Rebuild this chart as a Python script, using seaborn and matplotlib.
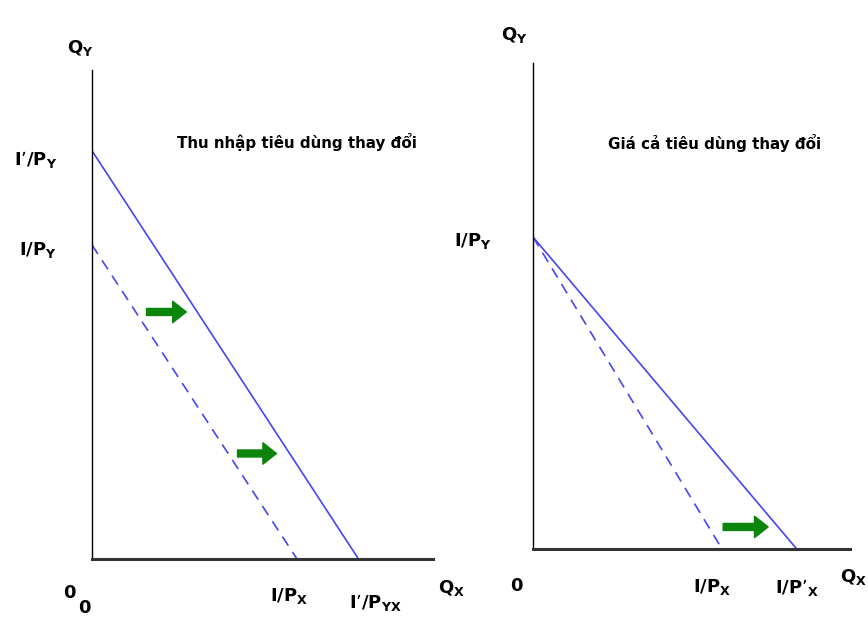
import matplotlib
matplotlib.use("Agg")
import matplotlib.pyplot as plt
import pandas as pd
import seaborn as sns

# budget line data (income I, prices)
income = 60
income_new = 78
price_x = 12
price_x_new = 8.6
price_y = 8

# left panel: income change -> parallel shift
left_lines = pd.DataFrame({
    'qx': [0, income / price_x, 0, income_new / price_x],
    'qy': [income / price_y, 0, income_new / price_y, 0],
    'line': ['old', 'old', 'new', 'new'],
})
left_arrows = [((1.33, 5.9), (2.3, 5.9)), ((3.55, 2.52), (4.5, 2.52))]

# right panel: price of X falls -> rotation
right_lines = pd.DataFrame({
    'qx': [0, income / price_x, 0, income / price_x_new],
    'qy': [income / price_y, 0, income / price_y, 0],
    'line': ['old', 'old', 'new', 'new'],
})
right_arrows = [((5.03, 0.53), (6.22, 0.53))]

blue = '#4646f0'
green = '#0b850b'

sns.set_theme(style='white')
plt.rcParams['font.family'] = ['DejaVu Sans']
plt.rcParams['mathtext.fontset'] = 'dejavusans'

fig = plt.figure(figsize=(8.68, 6.31), dpi=100)
W, H = 868, 631
ax1 = fig.add_axes([92 / W, (H - 559) / H, 341 / W, 489 / H])
ax2 = fig.add_axes([533 / W, (H - 549) / H, 317 / W, 486 / H])


def style_axis(ax, xmax, ymax):
    ax.set_xlim(0, xmax)
    ax.set_ylim(0, ymax)
    ax.set_xticks([])
    ax.set_yticks([])
    ax.set_xlabel('')
    ax.set_ylabel('')
    for s in ['top', 'right']:
        ax.spines[s].set_visible(False)
    ax.spines['left'].set_color('black')
    ax.spines['left'].set_linewidth(1.0)
    ax.spines['bottom'].set_color('#333333')
    ax.spines['bottom'].set_linewidth(2.2)
    ax.patch.set_alpha(0)


def draw_lines(ax, df):
    sns.lineplot(data=df, x='qx', y='qy', hue='line', style='line',
                 hue_order=['new', 'old'], style_order=['new', 'old'],
                 palette=[blue, blue], dashes=[(1, 0), (6.5, 4.5)],
                 sort=False, estimator=None, linewidth=1.2,
                 legend=False, ax=ax)
    ax.lines[1].set_dashes([6.5, 4.5])


def draw_arrows(ax, arrows):
    for start, end in arrows:
        ax.annotate('', xy=end, xytext=start,
                    arrowprops=dict(arrowstyle='simple,head_length=0.7,head_width=1.1,tail_width=0.36',
                                    color=green, mutation_scale=14,
                                    shrinkA=0, shrinkB=0))


draw_lines(ax1, left_lines)
style_axis(ax1, 341 / 41, 489 / 41.87)
draw_arrows(ax1, left_arrows)

draw_lines(ax2, right_lines)
style_axis(ax2, 317 / 37.8, 486 / 41.6)
draw_arrows(ax2, right_arrows)

lab = dict(fontsize=13, fontweight='bold', color='black', clip_on=False)

# left panel labels
ax1.text(0.03, 12.2, '$\\mathbf{Q_Y}$', ha='right', va='center', **lab)
ax1.text(-0.85, income_new / price_y - 0.22, '$\\mathbf{I\u2019/P_Y}$', ha='right', va='center', **lab)
ax1.text(-0.85, income / price_y - 0.12, '$\\mathbf{I/P_Y}$', ha='right', va='center', **lab)
ax1.text(-0.4, -0.82, '0', ha='right', va='center', **lab)
ax1.text(-0.03, -1.17, '0', ha='right', va='center', **lab)
ax1.text(income / price_x - 0.2, -0.88, '$\\mathbf{I/P_X}$', ha='center', va='center', **lab)
ax1.text(income_new / price_x + 0.42, -1.05, '$\\mathbf{I\u2019/P_{YX}}$', ha='center', va='center', **lab)
ax1.text(8.78, -0.7, '$\\mathbf{Q_X}$', ha='center', va='center', **lab)
ax1.text(5.0, 9.95, 'Thu nhập tiêu dùng thay đổi', ha='center', va='center',
         fontsize=10.9, fontweight='bold', color='black')

# right panel labels
ax2.text(-0.15, 12.35, '$\\mathbf{Q_Y}$', ha='right', va='center', **lab)
ax2.text(-1.1, income / price_y - 0.1, '$\\mathbf{I/P_Y}$', ha='right', va='center', **lab)
ax2.text(-0.45, -0.88, '0', ha='center', va='center', **lab)
ax2.text(income / price_x - 0.26, -0.92, '$\\mathbf{I/P_X}$', ha='center', va='center', **lab)
ax2.text(income / price_x_new, -0.92, '$\\mathbf{I/P\u2019_X}$', ha='center', va='center', **lab)
ax2.text(8.47, -0.68, '$\\mathbf{Q_X}$', ha='center', va='center', **lab)
ax2.text(4.8, 9.75, 'Giá cả tiêu dùng thay đổi', ha='center', va='center',
         fontsize=10.9, fontweight='bold', color='black')

fig.savefig('out.png', dpi=100, facecolor='white')
